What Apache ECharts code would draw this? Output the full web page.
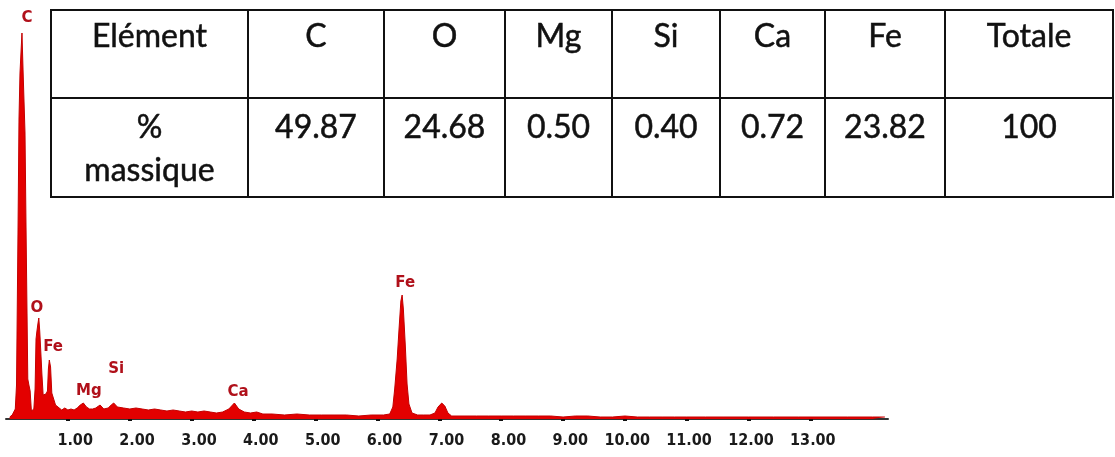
<!DOCTYPE html>
<html>
<head>
<meta charset="utf-8">
<script src="https://cdn.jsdelivr.net/npm/echarts@6/dist/echarts.min.js"></script>
<style>
  html, body { margin: 0; padding: 0; background: #fff; }
  #chart { width: 1115px; height: 457px; }
</style>
</head>
<body>
<div id="chart"></div>
<script>
// EDS spectrum: energy (keV) and counts
const energy = [
  0.06, 0.10, 0.13, 0.15, 0.17, 0.18, 0.195, 0.21, 0.226, 0.245, 0.258, 0.275, 0.29, 0.307, 0.323, 0.339, 0.352, 0.37, 0.39, 0.41,
  0.43, 0.45, 0.47, 0.485, 0.50, 0.515, 0.53, 0.545, 0.56, 0.58, 0.60, 0.62, 0.645, 0.67, 0.685, 0.70, 0.72, 0.74, 0.77, 0.80,
  0.84, 0.90, 0.95, 1.00, 1.05, 1.10, 1.15, 1.20, 1.25, 1.30, 1.35, 1.40, 1.45, 1.52, 1.58, 1.65, 1.70, 1.74, 1.80, 1.90,
  2.00, 2.10, 2.20, 2.30, 2.40, 2.50, 2.60, 2.70, 2.80, 2.90, 3.00, 3.10, 3.20, 3.30, 3.40, 3.50, 3.60, 3.69, 3.76, 3.85,
  3.95, 4.05, 4.15, 4.30, 4.50, 4.70, 4.90, 5.10, 5.30, 5.50, 5.70, 5.90, 6.10, 6.20, 6.25, 6.28, 6.32, 6.35, 6.38, 6.40,
  6.42, 6.45, 6.48, 6.51, 6.56, 6.65, 6.75, 6.85, 6.93, 6.98, 7.04, 7.09, 7.14, 7.20, 7.40, 7.60, 7.80, 8.00, 8.20, 8.40,
  8.60, 8.80, 9.00, 9.20, 9.40, 9.60, 9.80, 10.00, 10.20, 10.40, 10.60, 10.80, 11.00, 11.30, 11.60, 12.00, 12.40, 12.80, 13.20, 13.60,
  14.00, 14.20
];
const counts = [
  20, 40, 60, 100, 340, 360, 1950, 3000, 3460, 3700, 3860, 3500, 3200, 2860, 1950, 1100, 400, 340, 280, 80,
  60, 100, 300, 800, 880, 950, 1010, 880, 700, 450, 240, 220, 250, 280, 500, 590, 520, 260, 240, 140,
  120, 90, 110, 90, 100, 90, 110, 140, 160, 120, 100, 100, 110, 140, 100, 110, 140, 160, 120, 110,
  100, 110, 100, 90, 100, 90, 80, 90, 80, 70, 80, 70, 80, 70, 60, 70, 100, 160, 100, 70,
  60, 70, 50, 50, 40, 50, 40, 40, 40, 40, 30, 40, 40, 50, 120, 300, 600, 900, 1180, 1240,
  1100, 750, 350, 150, 60, 40, 40, 40, 60, 120, 160, 130, 60, 30, 30, 30, 30, 30, 30, 30,
  30, 30, 20, 30, 30, 20, 20, 30, 20, 20, 20, 20, 20, 20, 20, 20, 20, 20, 20, 20,
  20, 20
];

// Peak identifications: element, energy (keV), label height (counts)
const peakNames = ['C', 'O', 'Fe', 'Mg', 'Si', 'Ca', 'Fe'];
const peakEnergy = [0.34, 0.50, 0.76, 1.34, 1.78, 3.75, 6.45];
const peakLabelHeight = [4010, 1110, 720, 280, 500, 270, 1360];

// Axis tick labels (keV)
const tickValues = [1, 2, 3, 4, 5, 6, 7, 8, 9, 10, 11, 12, 13];

// Composition table
const tableElements = ['C', 'O', 'Mg', 'Si', 'Ca', 'Fe'];
const tableMass = ['49.87', '24.68', '0.50', '0.40', '0.72', '23.82'];
const tableTotal = '100';

const spectrum = energy.map((e, i) => [e, counts[i]]);
const peaks = peakNames.map((n, i) => ({ name: n, value: [peakEnergy[i], peakLabelHeight[i]] }));

// Table layout
const colEdges = [51, 248, 384, 505, 612, 720, 825, 945, 1113];
const rowEdges = [10, 98, 197];
const tableFont = '32px Lato';
const tableGraphic = [];
tableGraphic.push({
  type: 'rect', z: 10,
  shape: { x: colEdges[0], y: rowEdges[0], width: colEdges[8] - colEdges[0], height: rowEdges[2] - rowEdges[0] },
  style: { fill: '#fff', stroke: '#111', lineWidth: 2 }
});
tableGraphic.push({
  type: 'line', z: 11,
  shape: { x1: colEdges[0], y1: rowEdges[1], x2: colEdges[8], y2: rowEdges[1] },
  style: { stroke: '#111', lineWidth: 2 }
});
for (let c = 1; c < colEdges.length - 1; c++) {
  tableGraphic.push({
    type: 'line', z: 11,
    shape: { x1: colEdges[c], y1: rowEdges[0], x2: colEdges[c], y2: rowEdges[2] },
    style: { stroke: '#111', lineWidth: 2 }
  });
}
const headerCells = ['Elément'].concat(tableElements, ['Totale']);
const valueCells = [null].concat(tableMass, [tableTotal]);
function cellText(txt, c, y) {
  return {
    type: 'text', z: 12,
    style: {
      text: txt, x: (colEdges[c] + colEdges[c + 1]) / 2, y: y,
      font: tableFont, fill: '#111', stroke: '#111', lineWidth: 0.5,
      align: 'center', verticalAlign: 'middle'
    }
  };
}
headerCells.forEach((t, c) => tableGraphic.push(cellText(t, c, 37)));
valueCells.forEach((t, c) => { if (t !== null) tableGraphic.push(cellText(t, c, 128)); });
tableGraphic.push(cellText('%', 0, 128));
tableGraphic.push(cellText('massique', 0, 171));

const chart = echarts.init(document.getElementById('chart'), null, { renderer: 'canvas' });
chart.setOption({
  animation: false,
  backgroundColor: '#fff',
  grid: { left: 6, right: 227, top: 9, bottom: 38, containLabel: false },
  xAxis: {
    type: 'value', min: 0, max: 14.25, interval: 1, offset: 3,
    splitLine: { show: false },
    axisLine: { show: true, lineStyle: { color: '#333', width: 2 } },
    axisTick: { show: true, customValues: tickValues, length: 2, lineStyle: { color: '#111', width: 4 } },
    axisLabel: {
      show: true, customValues: tickValues, margin: 11,
      formatter: v => '{t|' + v.toFixed(2) + '}',
      rich: {
        t: { width: 50, align: 'right', fontFamily: 'DejaVu Sans Condensed', fontWeight: 'bold', fontSize: 16, color: '#1a1a1a' }
      }
    }
  },
  yAxis: {
    type: 'value', min: 0, max: 4100, show: false, splitLine: { show: false }
  },
  series: [
    {
      type: 'line', data: spectrum, symbol: 'none', smooth: false,
      lineStyle: { color: '#c40000', width: 1 },
      areaStyle: { color: '#e30000', opacity: 1 },
      z: 2
    },
    {
      type: 'scatter', data: peaks, symbolSize: 1,
      itemStyle: { color: 'rgba(0,0,0,0)', opacity: 1 },
      label: {
        show: true, position: 'inside', formatter: '{b}',
        fontFamily: 'DejaVu Sans', fontWeight: 'bold', fontSize: 15, color: '#b0101a'
      },
      z: 3
    }
  ],
  graphic: tableGraphic
});
</script>
</body>
</html>
